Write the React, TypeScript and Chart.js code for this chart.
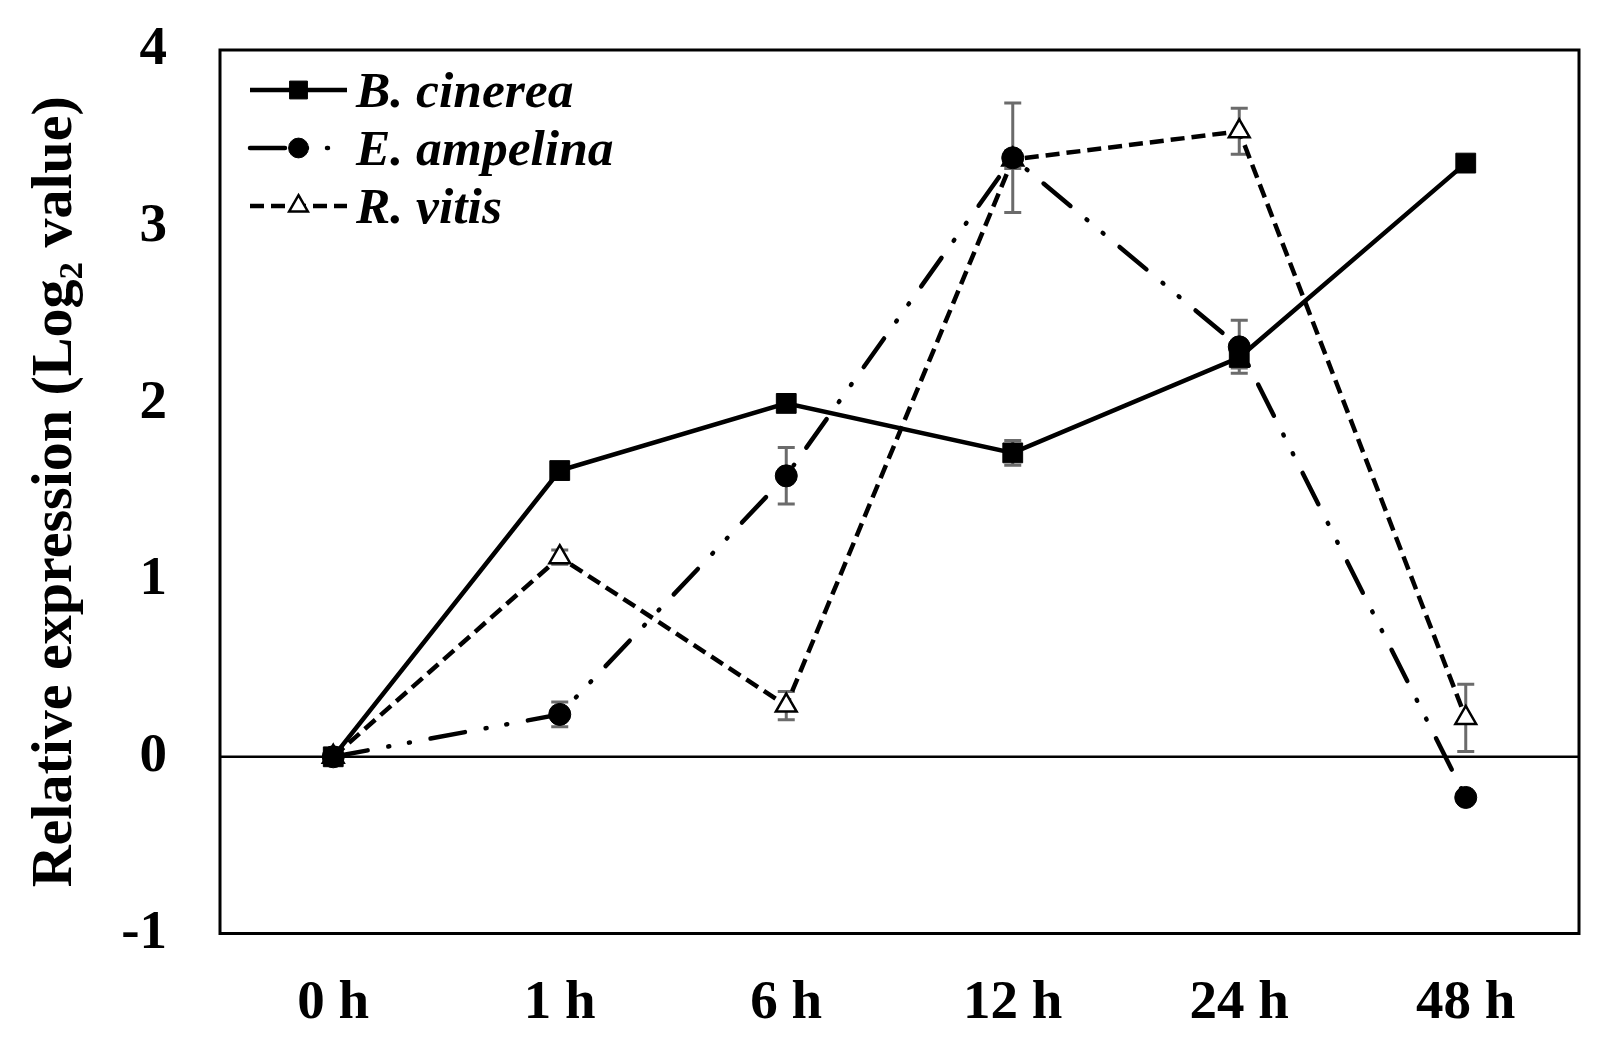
import React, { useEffect, useRef } from 'react';
import { Chart, registerables } from 'chart.js';

Chart.register(...registerables);

// ---- data ----
const timePoints = ['0 h', '1 h', '6 h', '12 h', '24 h', '48 h'];
const seriesNames = ['B. cinerea', 'E. ampelina', 'R. vitis'];
const bCinerea = [0, 1.62, 2.0, 1.72, 2.26, 3.36];
const bCinereaErr = [0, 0.02, 0.02, 0.07, 0.06, 0.02];
const eAmpelina = [0, 0.24, 1.59, 3.39, 2.32, -0.23];
const eAmpelinaErr = [0, 0.07, 0.16, 0.31, 0.15, 0.02];
const rVitis = [0, 1.13, 0.29, 3.38, 3.54, 0.22];
const rVitisErr = [0, 0.04, 0.08, 0.05, 0.13, 0.19];
const yTicks = [-1, 0, 1, 2, 3, 4];
const yTitle = 'Relative expression (Log\u2082 value)';

const SERIF = "'Liberation Serif', 'Times New Roman', serif";

function drawMarker(ctx: CanvasRenderingContext2D, style: string, x: number, y: number, r: number, fill: string, stroke: string, bw: number) {
  ctx.save();
  ctx.setLineDash([]);
  ctx.fillStyle = fill;
  ctx.strokeStyle = stroke;
  ctx.lineWidth = bw;
  ctx.beginPath();
  if (style === 'rect') {
    const s = Math.SQRT1_2 * r;
    ctx.rect(x - s, y - s, 2 * s, 2 * s);
  } else if (style === 'triangle') {
    ctx.moveTo(x, y - r);
    ctx.lineTo(x + Math.sin(2 * Math.PI / 3) * r, y - Math.cos(2 * Math.PI / 3) * r);
    ctx.lineTo(x + Math.sin(4 * Math.PI / 3) * r, y - Math.cos(4 * Math.PI / 3) * r);
    ctx.closePath();
  } else {
    ctx.arc(x, y, r, 0, Math.PI * 2);
  }
  ctx.fill();
  if (bw > 0) ctx.stroke();
  ctx.restore();
}

const framePlugin = {
  id: 'frameAndZero',
  beforeDatasetsDraw(chart: any) {
    const { ctx, chartArea } = chart;
    const y0 = chart.scales.y.getPixelForValue(0);
    ctx.save();
    ctx.strokeStyle = '#000';
    ctx.lineWidth = 2.5;
    ctx.beginPath();
    ctx.moveTo(chartArea.left, y0);
    ctx.lineTo(chartArea.right, y0);
    ctx.stroke();
    ctx.restore();
  },
  afterDraw(chart: any) {
    const { ctx, chartArea } = chart;
    ctx.save();
    ctx.strokeStyle = '#000';
    ctx.lineWidth = 3;
    ctx.strokeRect(chartArea.left, chartArea.top, chartArea.right - chartArea.left, chartArea.bottom - chartArea.top);
    ctx.restore();
  },
};

const errorBarPlugin = {
  id: 'errorBars',
  beforeDatasetsDraw(chart: any) {
    const { ctx } = chart;
    const yScale = chart.scales.y;
    chart.data.datasets.forEach((ds: any, i: number) => {
      const meta = chart.getDatasetMeta(i);
      const errs: number[] = ds.errors || [];
      meta.data.forEach((pt: any, j: number) => {
        const e = errs[j];
        if (!e) return;
        const v = ds.data[j];
        const yt = yScale.getPixelForValue(v + e);
        const yb = yScale.getPixelForValue(v - e);
        const x = pt.x;
        ctx.save();
        ctx.strokeStyle = '#6b6b6b';
        ctx.lineWidth = 3;
        ctx.setLineDash([]);
        ctx.beginPath();
        ctx.moveTo(x, yt);
        ctx.lineTo(x, yb);
        ctx.moveTo(x - 8.5, yt);
        ctx.lineTo(x + 8.5, yt);
        ctx.moveTo(x - 8.5, yb);
        ctx.lineTo(x + 8.5, yb);
        ctx.stroke();
        ctx.restore();
      });
    });
  },
};

const legendPlugin = {
  id: 'insideLegend',
  afterDraw(chart: any) {
    const { ctx, chartArea } = chart;
    const x0 = chartArea.left + 30;
    const x1 = chartArea.left + 127;
    chart.data.datasets.forEach((ds: any, i: number) => {
      const y = chartArea.top + 40 + i * 58;
      ctx.save();
      ctx.strokeStyle = ds.borderColor;
      ctx.lineWidth = ds.borderWidth;
      ctx.lineCap = ds.borderCapStyle || 'butt';
      ctx.setLineDash(ds.borderDash || []);
      ctx.beginPath();
      ctx.moveTo(x0, y);
      ctx.lineTo(x1, y);
      ctx.stroke();
      ctx.restore();
      drawMarker(ctx, ds.pointStyle, (x0 + x1) / 2, y, ds.pointRadius * 0.9, ds.pointBackgroundColor, ds.pointBorderColor, ds.pointBorderWidth);
      ctx.save();
      ctx.font = `italic bold 50px ${SERIF}`;
      ctx.fillStyle = '#000';
      ctx.textBaseline = 'alphabetic';
      ctx.textAlign = 'left';
      ctx.translate(chartArea.left + 136, y + 16.5);
      ctx.scale(1.03, 1);
      ctx.fillText(ds.label, 0, 0);
      ctx.restore();
    });
  },
};

export default function App() {
  const canvasRef = useRef<HTMLCanvasElement | null>(null);

  useEffect(() => {
    document.body.style.margin = '0';
    const canvas = canvasRef.current;
    if (!canvas) return;
    const chart = new Chart(canvas, {
      type: 'line',
      data: {
        labels: timePoints,
        datasets: [
          {
            label: seriesNames[0],
            data: bCinerea,
            errors: bCinereaErr,
            borderColor: '#000',
            borderWidth: 4.5,
            borderCapStyle: 'butt',
            borderDash: [],
            pointStyle: 'rect',
            pointRadius: 14,
            pointBackgroundColor: '#000',
            pointBorderColor: '#000',
            pointBorderWidth: 1,
            tension: 0,
            fill: false,
          } as any,
          {
            label: seriesNames[1],
            data: eAmpelina,
            errors: eAmpelinaErr,
            borderColor: '#000',
            borderWidth: 4.5,
            borderCapStyle: 'round',
            borderDash: [35, 21, 1, 20, 1, 21],
            pointStyle: 'circle',
            pointRadius: 11,
            pointBackgroundColor: '#000',
            pointBorderColor: '#000',
            pointBorderWidth: 1,
            tension: 0,
            fill: false,
          } as any,
          {
            label: seriesNames[2],
            data: rVitis,
            errors: rVitisErr,
            borderColor: '#000',
            borderWidth: 4.5,
            borderCapStyle: 'butt',
            borderDash: [14, 7],
            pointStyle: 'triangle',
            pointRadius: 12,
            pointBackgroundColor: '#fff',
            pointBorderColor: '#000',
            pointBorderWidth: 2.5,
            tension: 0,
            fill: false,
          } as any,
        ],
      },
      options: {
        animation: false,
        responsive: true,
        maintainAspectRatio: false,
        layout: { padding: { left: 0, top: 50, right: 33, bottom: 0 } },
        plugins: {
          legend: { display: false },
          tooltip: { enabled: false },
          title: { display: false },
        },
        scales: {
          x: {
            type: 'category',
            offset: true,
            grid: { display: false, drawTicks: false, tickLength: 0 },
            border: { display: false },
            ticks: {
              color: '#000',
              padding: 37.5,
              maxRotation: 0,
              autoSkip: false,
              font: { family: SERIF, size: 55, weight: 'bold', lineHeight: 1.2 },
            },
            afterFit: (s: any) => { s.height = 119.5; s.paddingLeft = 0; s.paddingRight = 0; },
          },
          y: {
            min: -1,
            max: 4,
            grid: { display: false, drawTicks: false, tickLength: 0 },
            border: { display: false },
            afterBuildTicks: (s: any) => { s.ticks = yTicks.map((v) => ({ value: v })); },
            ticks: {
              color: '#000',
              padding: 53,
              font: { family: SERIF, size: 55, weight: 'bold', lineHeight: 1 },
            },
            title: {
              display: true,
              text: yTitle,
              color: '#000',
              padding: { top: 27, bottom: 0 },
              font: { family: SERIF, size: 58, weight: 'bold', lineHeight: 1 },
            },
            afterFit: (s: any) => { s.width = 220; s.paddingTop = 0; s.paddingBottom = 0; },
          },
        },
      } as any,
      plugins: [framePlugin, errorBarPlugin, legendPlugin],
    });
    return () => chart.destroy();
  }, []);

  return (
    <div style={{ position: 'relative', width: '1612px', height: '1053px' }}>
      <canvas ref={canvasRef} />
    </div>
  );
}
